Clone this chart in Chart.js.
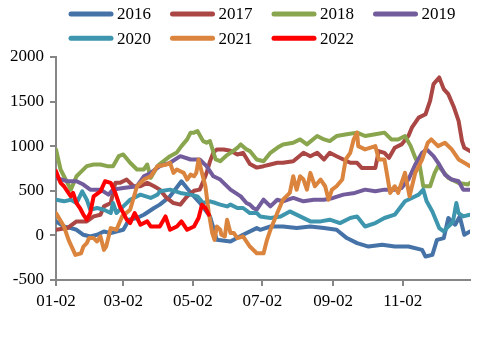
<!DOCTYPE html>
<html>
<head>
<meta charset="utf-8">
<script src="https://cdn.jsdelivr.net/npm/chart.js@4/dist/chart.umd.min.js"></script>
<style>
  body { margin: 0; background: #fff; }
  #wrap { width: 478px; height: 338px; }
</style>
</head>
<body>
<div id="wrap"><canvas id="chart" width="478" height="338"></canvas></div>
<script>
// x values are days counted from 01-02
var tickDays = [0, 59, 120, 181, 243, 304];
var tickLabels = ['01-02', '03-02', '05-02', '07-02', '09-02', '11-02'];
var years = ['2016', '2017', '2018', '2019', '2020', '2021', '2022'];
var colors = ['#4572A7', '#AA4643', '#89A54E', '#735C9C', '#3D96AE', '#DB843D', '#FF0000'];

var days2016 = [0,7,13,18,24,30,36,42,48,53,59,64,71,77,86,91,100,110,118,126,135,141,153,164,176,179,188,199,211,223,235,246,255,264,274,286,297,309,321,324,330,334,340,344,350,354,358,363];
var vals2016 = [157,100,82,63,7,-12,7,44,26,44,63,176,195,232,307,345,438,607,480,367,213,-50,-68,7,82,63,100,100,82,100,82,63,-30,-87,-125,-106,-125,-125,-162,-237,-218,-50,-30,195,120,213,7,44];

var days2017 = [0,10,18,27,33,39,42,48,52,56,62,68,74,80,86,91,97,103,109,115,121,126,129,132,135,138,141,147,153,159,164,170,176,182,188,194,199,208,217,223,229,235,240,246,252,258,264,268,280,283,288,292,297,303,309,312,318,324,328,331,336,340,344,349,353,356,358,363];
var vals2017 = [63,82,157,157,213,232,325,363,589,589,626,551,551,589,551,513,420,363,345,438,500,513,600,700,830,930,964,964,950,907,926,800,760,776,795,814,814,832,926,888,926,851,926,888,851,814,814,757,757,945,926,870,982,1020,1114,1208,1320,1358,1508,1696,1771,1640,1583,1433,1283,1057,982,945];

var days2018 = [0,4,10,13,18,21,27,33,39,45,50,55,59,65,71,77,80,83,89,91,100,106,110,115,118,121,124,129,132,135,140,144,150,153,159,162,167,170,176,182,188,194,199,208,214,220,229,235,240,246,255,264,271,280,288,294,300,306,311,315,319,322,328,332,335,338,344,353,361,363];
var vals2018 = [964,739,589,513,663,701,776,795,795,776,776,888,907,814,739,739,795,645,776,800,888,930,1001,1076,1152,1152,1170,1057,1040,1057,851,832,900,926,982,1020,964,945,851,832,926,982,1020,1039,1076,1020,1114,1076,1057,1114,1133,1152,1114,1133,1152,1076,1076,1114,1001,870,776,551,551,701,776,739,645,589,570,589];

var days2019 = [0,10,18,24,30,39,46,50,59,71,77,83,91,100,109,118,126,132,138,144,153,162,167,170,173,176,182,188,194,199,208,217,226,235,243,252,262,271,280,288,297,303,309,315,321,325,331,336,341,347,353,357,363];
var vals2019 = [645,607,607,570,513,513,457,513,532,551,663,700,776,814,888,851,851,776,663,626,513,438,363,345,307,288,400,325,400,382,420,382,400,400,420,457,476,513,494,513,513,532,626,795,926,964,888,795,682,626,607,513,513];

var days2020 = [0,7,13,18,23,27,30,36,42,48,50,53,59,65,74,83,89,91,100,109,118,124,129,135,140,144,150,153,159,164,170,176,179,188,197,205,214,223,232,240,249,258,264,271,280,288,297,306,312,318,322,325,330,336,340,344,348,351,353,357,363];
var vals2020 = [400,382,400,363,494,400,288,307,288,251,363,251,325,400,457,420,457,494,513,476,457,438,363,382,363,345,325,345,307,307,250,251,213,195,213,269,213,157,157,176,138,195,213,100,138,195,232,382,420,457,513,382,269,82,44,100,150,363,250,213,232];

var days2021 = [0,7,11,17,22,24,27,29,33,36,39,42,44,48,53,58,65,71,77,83,89,97,100,103,106,109,112,115,118,121,123,125,128,131,134,137,139,141,144,145,148,150,153,156,159,164,170,176,182,185,188,194,199,205,208,211,214,217,220,223,227,232,236,239,242,246,251,254,258,261,264,265,271,280,283,288,293,297,300,306,310,315,321,326,329,335,341,347,353,358,363];
var vals2021 = [251,100,-50,-218,-200,-125,-87,-30,-30,-68,-12,-162,-125,82,63,213,288,551,626,663,776,795,814,701,739,720,701,626,682,663,701,851,700,551,251,26,-50,100,63,7,-12,176,26,26,-30,-12,-125,-200,-200,-50,63,251,400,476,663,513,663,626,513,701,551,626,551,400,513,551,626,851,926,1076,1152,1001,964,1001,851,851,476,551,476,701,438,701,851,1039,1076,1001,1039,964,851,814,776];

var days2022 = [0,4,7,10,13,15,18,21,24,27,30,33,39,43,48,52,56,62,65,69,74,80,83,91,96,100,106,110,115,121,125,128,131,134];
var vals2022 = [720,589,551,494,438,476,363,307,232,176,251,438,494,607,589,476,325,176,138,251,120,157,100,100,213,63,100,157,63,100,195,345,307,232];

var seriesDays = [days2016, days2017, days2018, days2019, days2020, days2021, days2022];
var seriesVals = [vals2016, vals2017, vals2018, vals2019, vals2020, vals2021, vals2022];

function toPoints(days, vals) {
    var pts = [];
    for (var i = 0; i < days.length; i++) {
        pts.push({x: days[i], y: vals[i]});
    }
    return pts;
}

var datasets = [];
for (var i = 0; i < years.length; i++) {
    datasets.push({
        label: years[i],
        data: toPoints(seriesDays[i], seriesVals[i]),
        borderColor: colors[i],
        backgroundColor: colors[i],
        borderWidth: 4,
        borderJoinStyle: 'round',
        borderCapStyle: 'round',
        pointRadius: 0,
        tension: 0,
        order: years.length - 1 - i   // later years drawn on top
    });
}

// legend laid out as a 4-column grid above the plot
var gridLegend = {
    id: 'gridLegend',
    afterDraw: function(chart) {
        var ctx = chart.ctx;
        ctx.save();
        ctx.font = '17px "Liberation Serif", serif';
        ctx.textBaseline = 'middle';
        ctx.textAlign = 'left';
        chart.data.datasets.forEach(function(ds, i) {
            var x = 69 + (i % 4) * 101.5;
            var y = 14 + Math.floor(i / 4) * 24.3;
            ctx.strokeStyle = ds.borderColor;
            ctx.lineWidth = 5;
            ctx.lineCap = 'round';
            ctx.beginPath();
            ctx.moveTo(x + 2, y);
            ctx.lineTo(x + 42, y);
            ctx.stroke();
            ctx.fillStyle = '#000';
            ctx.fillText(ds.label, x + 48, y + 1);
        });
        ctx.restore();
    }
};

var axisColor = '#868686';
Chart.defaults.font.family = '"Liberation Serif", serif';
Chart.defaults.font.size = 17;
Chart.defaults.color = '#000';

new Chart(document.getElementById('chart').getContext('2d'), {
    type: 'line',
    data: {datasets: datasets},
    plugins: [gridLegend],
    options: {
        responsive: false,
        animation: false,
        devicePixelRatio: 1,
        layout: {padding: {top: 57, right: 8, left: 0, bottom: 0}},
        plugins: {
            legend: {display: false},
            tooltip: {enabled: false}
        },
        scales: {
            x: {
                type: 'linear',
                min: 0,
                max: 363,
                afterBuildTicks: function(scale) {
                    scale.ticks = tickDays.map(function(d) { return {value: d}; });
                },
                afterFit: function(scale) { scale.height = 58; },
                ticks: {
                    autoSkip: false,
                    maxRotation: 0,
                    padding: 5,
                    callback: function(v) { return tickLabels[tickDays.indexOf(v)]; }
                },
                grid: {drawOnChartArea: false, drawTicks: true, tickLength: 6, color: axisColor, lineWidth: 2},
                border: {display: true, color: axisColor, width: 2}
            },
            y: {
                min: -500,
                max: 2000,
                afterFit: function(scale) { scale.width = 56; },
                ticks: {
                    stepSize: 500,
                    padding: 6,
                    callback: function(v) { return String(v); }
                },
                grid: {drawOnChartArea: false, drawTicks: true, tickLength: 6, color: axisColor, lineWidth: 2},
                border: {display: true, color: axisColor, width: 2}
            }
        }
    }
});
</script>
</body>
</html>
